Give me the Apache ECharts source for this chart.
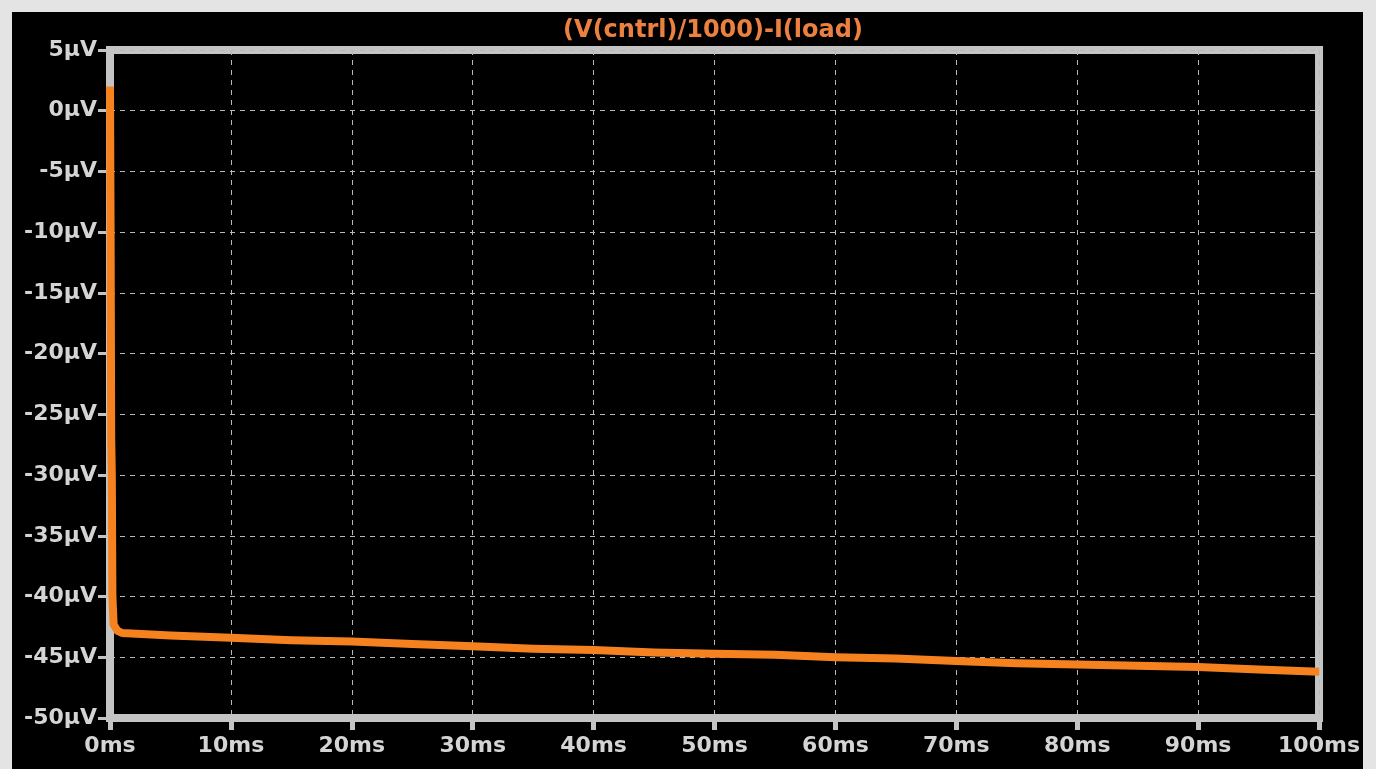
<!DOCTYPE html>
<html>
<head>
<meta charset="utf-8">
<script src="https://cdn.jsdelivr.net/npm/echarts@6/dist/echarts.min.js"></script>
<style>
  html, body { margin: 0; padding: 0; background: #e4e4e4; width: 1376px; height: 769px; overflow: hidden; }
  #chart { position: absolute; left: 12px; top: 12px; width: 1351px; height: 757px; background: #000; }
</style>
</head>
<body>
<div id="chart"></div>
<script>
// Transient waveform: time in ms, value in µV
const timeMs = [0, 0.05, 0.1, 0.15, 0.2, 0.3, 0.6, 1, 5, 10, 15, 20, 25, 30, 35, 40, 45, 50, 55, 60, 65, 70, 75, 80, 85, 90, 95, 100];
const valueUV = [2, -10, -27, -30, -40, -42.3, -42.8, -43.0, -43.2, -43.4, -43.6, -43.7, -43.9, -44.1, -44.3, -44.4, -44.6, -44.7, -44.8, -45.0, -45.1, -45.3, -45.5, -45.6, -45.7, -45.8, -46.0, -46.2];
const traceName = '(V(cntrl)/1000)-I(load)';

const chart = echarts.init(document.getElementById('chart'));
const gray = '#c4c4c4';
const labelFont = { color: '#d4d4d4', fontSize: 22, fontWeight: 'bold', fontFamily: 'DejaVu Sans' };

chart.setOption({
  backgroundColor: '#000',
  animation: false,
  graphic: [{
    type: 'text',
    x: 701, y: 19,
    style: {
      text: traceName,
      fill: '#ec8040',
      font: 'bold 24px "DejaVu Sans"',
      textAlign: 'center',
      textVerticalAlign: 'middle'
    }
  }],
  grid: {
    left: 98, right: 41, top: 38, bottom: 51,
    show: true, borderColor: gray, borderWidth: 8, backgroundColor: '#000'
  },
  xAxis: {
    type: 'value', min: 0, max: 100, interval: 10,
    axisLine: { show: true, onZero: false, lineStyle: { color: gray, width: 8 } },
    axisTick: { show: true, length: 12, lineStyle: { color: gray, width: 5 } },
    axisLabel: Object.assign({ margin: 17, formatter: v => v + 'ms' }, labelFont),
    splitLine: { show: true, lineStyle: { color: '#b8b8b8', width: 1, type: [5, 5] } }
  },
  yAxis: {
    type: 'value', min: -50, max: 5, interval: 5,
    axisLine: { show: true, onZero: false, lineStyle: { color: gray, width: 8 } },
    axisTick: { show: true, length: 12, lineStyle: { color: gray, width: 3 } },
    axisLabel: Object.assign({ margin: 13, formatter: v => v + 'µV' }, labelFont),
    splitLine: { show: true, lineStyle: { color: '#b8b8b8', width: 1, type: [5, 5] } }
  },
  series: [{
    type: 'line',
    name: traceName,
    data: timeMs.map((t, i) => [t, valueUV[i]]),
    showSymbol: false,
    clip: false,
    lineStyle: { color: '#f5821f', width: 8, join: 'round' },
    z: 5
  }]
});
</script>
</body>
</html>
